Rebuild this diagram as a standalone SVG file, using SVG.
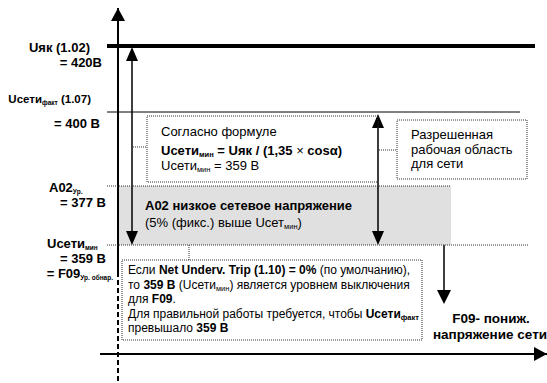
<svg xmlns="http://www.w3.org/2000/svg" width="547" height="383" viewBox="0 0 547 383">
<style>
text{font-family:"Liberation Sans",Arial,sans-serif;font-size:13px;fill:#000}
.b{font-weight:bold}
.s{font-size:7.5px}
.ss{font-size:6.5px}
.n{font-size:12px}
.dot{fill:none;stroke:#333;stroke-width:1;stroke-dasharray:1 1}
.ln{stroke:#000;fill:none}
</style>
<defs>
<marker id="ahb" viewBox="0 0 13 14" refX="13" refY="7" markerWidth="13" markerHeight="14" markerUnits="userSpaceOnUse" orient="auto">
<path d="M0,0 L13,7 L0,14 z" fill="#000"/>
</marker>
</defs>
<rect x="118" y="186" width="333" height="59" fill="#e0e0e0"/>
<g id="connectors">
<line class="ln" x1="118" y1="272" x2="118" y2="8" stroke="#333" stroke-width="2" marker-end="url(#ahb)"/>
<line x1="118" y1="272" x2="118" y2="383" stroke="#000" stroke-width="2" stroke-dasharray="5 3"/>
<line class="ln" x1="100" y1="354" x2="547" y2="354" stroke-width="2" marker-end="url(#ahb)"/>
<line class="ln" x1="107" y1="46" x2="535" y2="46" stroke-width="4"/>
<line class="ln" x1="107" y1="112" x2="520" y2="112" stroke-width="1"/>
<line class="ln" x1="132" y1="58" x2="132" y2="234" stroke-width="1.5"/>
<path d="M132,47 L126,61 L138,61 z M132,245 L126,231 L138,231 z" fill="#000"/>
<line class="ln" x1="378" y1="126" x2="378" y2="234" stroke-width="1.5"/>
<path d="M378,114 L372,128 L384,128 z M378,245 L372,231 L384,231 z" fill="#000"/>
<line class="ln" x1="444" y1="245" x2="444" y2="292" stroke-width="1.5"/>
<path d="M444,304 L437,290 L451,290 z" fill="#000"/>
<line class="dot" x1="107" y1="186" x2="451" y2="186"/>
<line class="dot" x1="107" y1="245" x2="528" y2="245"/>
<line class="dot" x1="133" y1="147" x2="147" y2="147"/>
<line class="dot" x1="379" y1="150" x2="397" y2="150"/>
<line class="dot" x1="189" y1="245" x2="189" y2="260"/>
</g>
<g id="formula">
<rect class="dot" x="147" y="116" width="231" height="66" fill="#fff"/>
<text x="161" y="136">Согласно формуле</text>
<text x="161" y="155"><tspan class="b">Uсети</tspan><tspan class="b s" dy="2">мин</tspan><tspan class="b" dy="-2"> = Uяк / (1,35 </tspan><tspan>×</tspan><tspan class="b"> cosα)</tspan></text>
<text x="161" y="170">Uсети<tspan class="s" dy="2">мин</tspan><tspan dy="-2"> = 359 В</tspan></text>
</g>
<g id="allowed">
<rect class="dot" x="397" y="120" width="130" height="59" fill="#fff"/>
<text x="411" y="139">Разрешенная</text>
<text x="411" y="154">рабочая область</text>
<text x="411" y="168">для сети</text>
</g>
<g id="a02">
<text class="b" x="145" y="210">A02 низкое сетевое напряжение</text>
<text x="145" y="227">(5% (фикс.) выше Uсет<tspan class="s" dy="2">мин</tspan><tspan dy="-2">)</tspan></text>
</g>
<g id="note">
<rect class="dot" x="122" y="260" width="300" height="80" fill="#fff"/>
<text class="n" x="128" y="274">Если <tspan class="b">Net Underv. Trip (1.10) = 0%</tspan> (по умолчанию),</text>
<text class="n" x="128" y="288.5">то <tspan class="b">359 В</tspan> (Uсети<tspan class="s" dy="2">мин</tspan><tspan dy="-2">) является уровнем выключения</tspan></text>
<text class="n" x="128" y="303">для <tspan class="b">F09</tspan>.</text>
<text class="n" x="128" y="317.5">Для правильной работы требуется, чтобы <tspan class="b">Uсети</tspan><tspan class="b s" dy="2">факт</tspan></text>
<text class="n" x="128" y="332">превышало <tspan class="b">359 В</tspan></text>
</g>
<g id="f09">
<text class="b" x="491" y="323" text-anchor="middle" style="font-size:13.5px">F09- пониж.</text>
<text class="b" x="490" y="339" text-anchor="middle" style="font-size:13.5px">напряжение сети</text>
</g>
<g id="labels">
<text class="b" x="90" y="52" text-anchor="end">Uяк (1.02)</text>
<text class="b" x="102" y="67" text-anchor="end">= 420B</text>
<text class="b" x="91" y="103" text-anchor="end" style="font-size:11.5px">Uсети<tspan class="ss" dy="2">факт</tspan><tspan dy="-2"> (1.07)</tspan></text>
<text class="b" x="100" y="128" text-anchor="end">= 400 В</text>
<text class="b" x="49" y="192">A02<tspan class="ss" dy="2">Ур.</tspan></text>
<text class="b" x="106" y="207" text-anchor="end">= 377 В</text>
<text class="b" x="47" y="248">Uсети<tspan class="ss" dy="2">мин</tspan></text>
<text class="b" x="106" y="263" text-anchor="end">= 359 В</text>
<text class="b" x="113" y="278" text-anchor="end">= F09<tspan class="ss" dy="2">Ур. обнар.</tspan></text>
</g>
</svg>
